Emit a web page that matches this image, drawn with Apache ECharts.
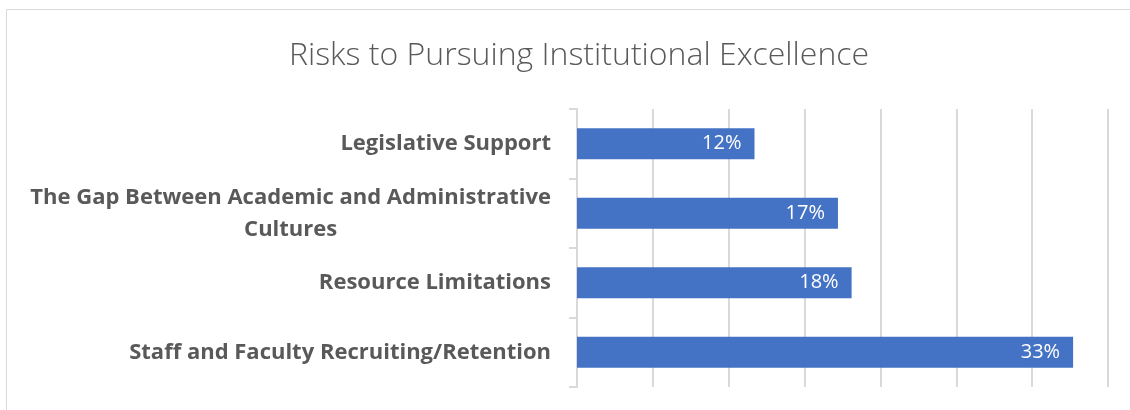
<!DOCTYPE html>
<html>
<head>
<meta charset="utf-8">
<script src="https://cdn.jsdelivr.net/npm/echarts@6/dist/echarts.min.js"></script>
<style>
  html, body { margin: 0; padding: 0; background: #fff; }
  #chart { width: 1130px; height: 410px; }
</style>
</head>
<body>
<div id="chart"></div>
<script>
// categories, top to bottom
const categories = [
  "Legislative Support",
  "The Gap Between Academic and Administrative\nCultures",
  "Resource Limitations",
  "Staff and Faculty Recruiting/Retention"
];
// share of respondents (%)
const values = [11.7, 17.2, 18.1, 32.7];
const axisMax = 35;
const axisStep = 5;

const fontName = "Open Sans";
const labelFont = "bold 22px 'Open Sans'";
const textColor = "#595959";

// width of the long first line, so the wrapped line can be centred under it
const measure = document.createElement("canvas").getContext("2d");
measure.font = labelFont;
const wideLine = measure.measureText(categories[1].split("\n")[0]).width;

const chart = echarts.init(document.getElementById("chart"));

const options = {
  animation: false,
  title: {
    text: "Risks to Pursuing Institutional Excellence",
    left: 574,
    top: 35,
    textAlign: "center",
    textStyle: {
      fontFamily: fontName,
      fontWeight: 300,
      fontSize: 32,
      color: textColor,
    },
  },
  graphic: [
    {
      type: "rect",
      shape: { x: 6.5, y: 9.5, width: 1300, height: 600 },
      style: { fill: "none", stroke: "#d9d9d9", lineWidth: 1 },
      silent: true,
    },
  ],
  grid: {
    left: 577,
    right: 22,
    top: 109,
    bottom: 23,
  },
  xAxis: {
    type: "value",
    min: 0,
    max: axisMax,
    interval: axisStep,
    axisLine: { show: false },
    axisTick: { show: false },
    axisLabel: { show: false },
    splitLine: {
      show: true,
      lineStyle: { color: "#d9d9d9", width: 2 },
    },
  },
  yAxis: {
    type: "category",
    inverse: true,
    data: categories,
    axisLine: { show: true, lineStyle: { color: "#d9d9d9", width: 2 } },
    axisTick: { show: true, length: 8, lineStyle: { color: "#d9d9d9", width: 2 } },
    axisLabel: {
      margin: 26,
      color: textColor,
      fontFamily: fontName,
      fontWeight: "bold",
      fontSize: 22,
      lineHeight: 32,
      formatter: function (v) {
        const parts = v.split("\n");
        if (parts.length === 1) return v;
        return "{a|" + parts[0] + "}\n{b|" + parts[1] + "}";
      },
      rich: {
        a: {},
        b: { width: wideLine, align: "center" },
      },
    },
  },
  series: [
    {
      type: "bar",
      data: values,
      barWidth: 31,
      itemStyle: { color: "#4472c4" },
      label: {
        show: true,
        position: "insideRight",
        distance: 13,
        color: "#fff",
        fontFamily: fontName,
        fontSize: 20,
        formatter: function (p) {
          return Math.round(p.value) + "%";
        },
      },
    },
  ],
};
chart.setOption(options);
</script>
</body>
</html>
